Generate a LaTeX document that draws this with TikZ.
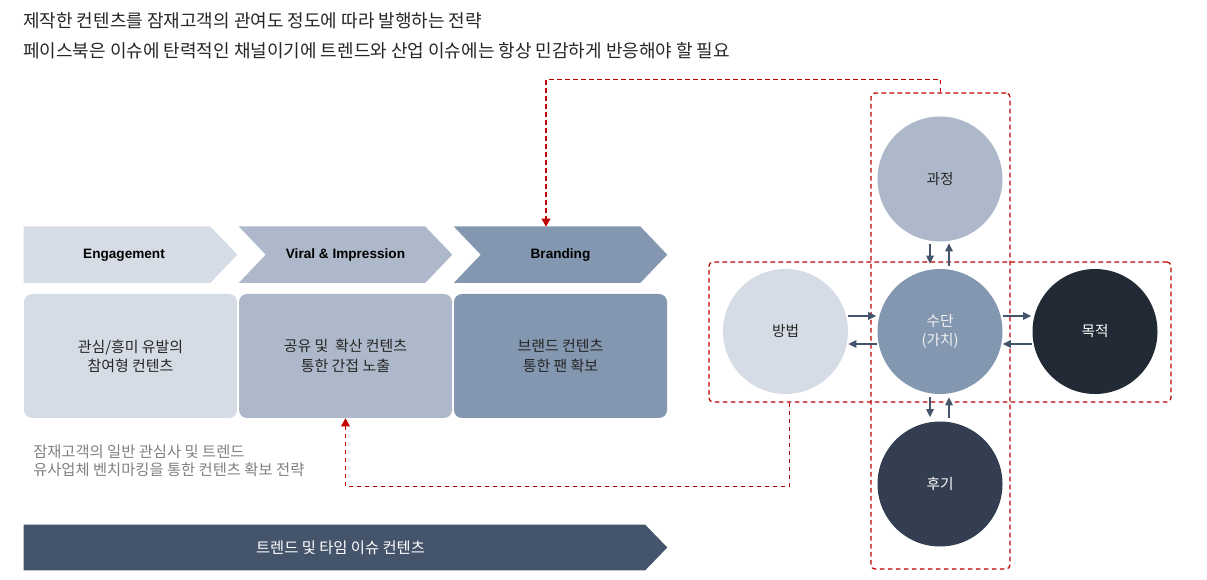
\documentclass[tikz,border=0pt]{standalone}
\usepackage{fontspec}
\setmainfont{Noto Sans CJK KR}
\newfontfamily\labfont{Liberation Sans}
\usetikzlibrary{arrows.meta,calc,backgrounds}
\definecolor{cA}{HTML}{D6DCE5}
\definecolor{cB}{HTML}{ADB9CA}
\definecolor{cC}{HTML}{8497B0}
\definecolor{cD}{HTML}{44546A}
\definecolor{cE}{HTML}{222A35}
\definecolor{cF}{HTML}{333F50}
\definecolor{redd}{HTML}{C00000}
\definecolor{txt}{HTML}{262626}
\definecolor{graytxt}{HTML}{808080}
\begin{document}
\begin{tikzpicture}[x=0.75pt,y=-0.75pt,
 chev/.style={minimum width=159.75pt,minimum height=42pt,inner sep=0},
 chevlab/.style={inner sep=0,font=\labfont\bfseries\fontsize{10.2}{12}\selectfont,text=black},
 box/.style={minimum width=159.75pt,minimum height=93pt,inner sep=0,rounded corners=6pt,align=center,font=\fontsize{11.2}{14.5}\selectfont,text=txt},
 circ/.style={circle,minimum size=93.75pt,inner sep=0,align=center,font=\fontsize{11}{14.25}\selectfont},
 redbox/.style={draw=redd,dash pattern=on 3.5pt off 2.5pt,line width=0.9pt,rounded corners=3pt,inner sep=0},
 redline/.style={draw=redd,dash pattern=on 3.5pt off 2.5pt,line width=1pt,-{Triangle[length=6pt,width=6.5pt]}},
 flow/.style={draw=cD,line width=1.1pt,-{Triangle[length=6pt,width=5.5pt]}}
]
\useasboundingbox (0,0) rectangle (1207,580);

% title lines
\node[anchor=west,inner sep=0,font=\fontsize{13.5}{16}\selectfont,text=txt] (t1) at (23,20.5) {제작한 컨텐츠를 잠재고객의 관여도 정도에 따라 발행하는 전략};
\node[anchor=west,inner sep=0,font=\fontsize{13.5}{16}\selectfont,text=txt] (t2) at (23,50.5) {페이스북은 이슈에 탄력적인 채널이기에 트렌드와 산업 이슈에는 항상 민감하게 반응해야 할 필요};

% chevrons
\node[chev] (ch1) at (130.5,254.7) {};
\node[chev] (ch2) at (345.5,254.7) {};
\node[chev] (ch3) at (560.5,254.7) {};
\node[chevlab] (l1) at (124,255) {Engagement};
\node[chevlab] (l2) at (345.5,255) {Viral \& Impression};
\node[chevlab] (l3) at (560.5,255) {Branding};

% bottom bar
\node[minimum width=482.25pt,minimum height=33.75pt,inner sep=0] (bar) at (345.5,547.5) {};
\node[inner sep=0,text=white,font=\fontsize{11.5}{13}\selectfont] (barlab) at (340.5,548) {트렌드 및 타임 이슈 컨텐츠};

\begin{scope}[on background layer]
\fill[cA] (ch1.north west) -- ($(ch1.north east)+(-27,0)$) -- (ch1.east) -- ($(ch1.south east)+(-27,0)$) -- (ch1.south west) -- cycle;
\fill[cB] (ch2.north west) -- ($(ch2.north east)+(-27,0)$) -- (ch2.east) -- ($(ch2.south east)+(-27,0)$) -- (ch2.south west) -- ($(ch2.west)+(27,0)$) -- cycle;
\fill[cC] (ch3.north west) -- ($(ch3.north east)+(-27,0)$) -- (ch3.east) -- ($(ch3.south east)+(-27,0)$) -- (ch3.south west) -- ($(ch3.west)+(27,0)$) -- cycle;
\fill[cD] (bar.north west) -- ($(bar.north east)+(-22,0)$) -- (bar.east) -- ($(bar.south east)+(-22,0)$) -- (bar.south west) -- cycle;
\end{scope}

% boxes
\node[box,fill=cA] (box1) at (130.5,356) {관심/흥미 유발의\\참여형 컨텐츠};
\node[box,fill=cB] (box2) at (345.5,356) {공유 및 \ 확산 컨텐츠\\통한 간접 노출};
\node[box,fill=cC] (box3) at (560.5,356) {브랜드 컨텐츠\\통한 팬 확보};

% note
\node[anchor=west,align=left,inner sep=0,text=graytxt,font=\fontsize{11.5}{13.2}\selectfont] (note) at (33,460.5) {잠재고객의 일반 관심사 및 트렌드\\유사업체 벤치마킹을 통한 컨텐츠 확보 전략};

% circles
\node[circ,fill=cB,text=txt] (gw) at (940,179) {과정};
\node[circ,fill=cC,text=white!95!black] (sd) at (940,331.5) {수단\\(가치)};
\node[circ,fill=cA,text=txt] (bb) at (785.5,331.5) {방법};
\node[circ,fill=cE,text=white] (mj) at (1095,331.5) {목적};
\node[circ,fill=cF,text=white] (hg) at (940,484) {후기};

% red dashed frames
\node[redbox,minimum width=104.25pt,minimum height=357pt] (vrect) at (940.5,331) {};
\node[redbox,minimum width=346.5pt,minimum height=105pt] (hrect) at (940,332) {};

% flow arrows
\draw[flow] ($(gw.south)+(-10,2)$) -- ($(sd.north)+(-10,-5)$);
\draw[flow] ($(sd.north)+(9,-3)$) -- ($(gw.south)+(9,1.5)$);
\draw[flow] ($(sd.south)+(-10,3)$) -- ($(hg.north)+(-10,-4)$);
\draw[flow] ($(hg.north)+(9,-3)$) -- ($(sd.south)+(9,3)$);
\draw[flow] ($(bb.east)+(0,-15.5)$) -- ($(sd.west)+(-1,-15.5)$);
\draw[flow] ($(sd.west)+(0,12.5)$) -- ($(bb.east)+(0,12.5)$);
\draw[flow] ($(sd.east)+(0,-15.5)$) -- ($(mj.west)+(-1,-15.5)$);
\draw[flow] ($(mj.west)+(0,12.5)$) -- ($(sd.east)+(0,12.5)$);

% red connectors
\coordinate (brandtop) at (546,226.7);
\draw[redline] (vrect.north) -- ++(0,-13) -| (brandtop);
\draw[redline] ($(hrect.south west)+(81,0)$) -- ++(0,84) -| (box2.south);
\end{tikzpicture}
\end{document}
